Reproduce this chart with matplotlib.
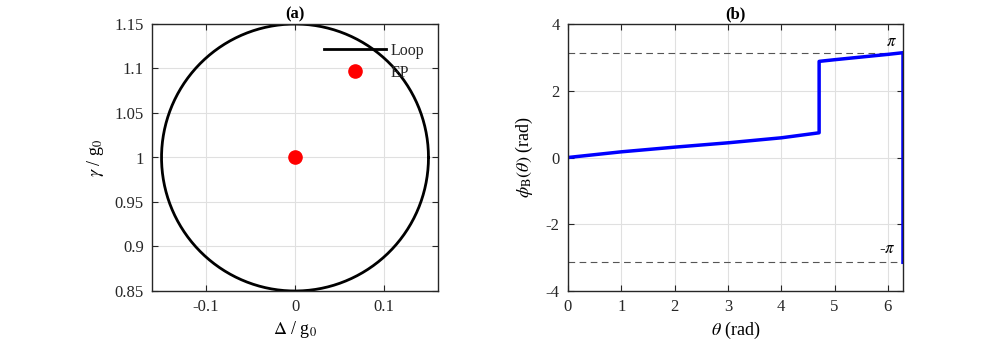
import numpy as np
import matplotlib.pyplot as plt

plt.rcParams['font.family'] = ['Liberation Serif', 'DejaVu Serif']
plt.rcParams['mathtext.fontset'] = 'stix'
plt.rcParams['font.size'] = 12

# panel (a): loop around the EP
centro = (0.0, 1.0)
radio = 0.15
ep_x = [0.0]
ep_y = [1.0]

# panel (b): phase
theta_1 = [0.0, 1.0, 2.0, 3.0, 4.0, 4.71]
phi_1 = [0.0, 0.17, 0.31, 0.44, 0.59, 0.74]
theta_2 = [4.71, 5.0, 5.5, 6.0, 6.283]
phi_2 = [2.88, 2.93, 3.01, 3.09, 3.14]
theta_3 = [6.283, 6.283]
phi_3 = [3.14, -3.14]


def estilo(ax):
    ax.grid(True, color='#e0e0e0', lw=0.8)
    ax.set_axisbelow(True)
    ax.tick_params(direction='in', top=True, right=True, length=4, pad=6,
                   colors='#262626', labelsize=12)
    for s in ax.spines.values():
        s.set_linewidth(1.0)
        s.set_color('#262626')


fig = plt.figure(figsize=(9.97, 3.42), dpi=100)
ax1 = fig.add_axes([152/997, 1-291/342, 286/997, 267/342])
ax2 = fig.add_axes([568/997, 1-291/342, 335/997, 267/342])

# (a)
t = np.linspace(0, 2*np.pi, 400)
ax1.plot(centro[0] + radio*np.cos(t), centro[1] + radio*np.sin(t), 'k-', lw=2, label='Loop')
ax1.plot(ep_x, ep_y, 'o', color='red', ms=9.5, label='EP', ls='none')
ax1.set_xlim(-0.1607, 0.1607)
ax1.set_ylim(0.85, 1.15)
ax1.set_xticks([-0.1, 0, 0.1])
ax1.set_xticklabels(['-0.1', '0', '0.1'])
ax1.set_yticks([0.85, 0.9, 0.95, 1.0, 1.05, 1.1, 1.15])
ax1.set_yticklabels(['0.85', '0.9', '0.95', '1', '1.05', '1.1', '1.15'])
ax1.set_xlabel(r'$\Delta$ / g$_0$', fontsize=13, labelpad=3)
ax1.set_ylabel(r'$\gamma$ / g$_0$', fontsize=13, labelpad=6)
ax1.set_title('(a)', fontweight='bold', fontsize=12, pad=4)
estilo(ax1)
leg = ax1.legend(loc='upper left', bbox_to_anchor=(324/997, 1-43/342), bbox_transform=fig.transFigure,
                 frameon=False, borderpad=0, borderaxespad=0, handlelength=3.9, handletextpad=0.25,
                 labelspacing=0.35, fontsize=11.5)
for txt in leg.get_texts():
    txt.set_color('#262626')

# (b)
ax2.axhline(np.pi, color='#555555', ls=(0, (6, 4)), lw=0.8)
ax2.axhline(-np.pi, color='#555555', ls=(0, (6, 4)), lw=0.8)
ax2.plot(theta_1 + theta_2 + theta_3[1:], phi_1 + phi_2 + phi_3[1:], color='blue', lw=2.5)
ax2.text(6.07, 3.45, r'$\pi$', fontsize=12, ha='center', va='center')
ax2.text(5.98, -2.75, r'-$\pi$', fontsize=12, ha='center', va='center')
ax2.set_xlim(0, 2*np.pi)
ax2.set_ylim(-4, 4)
ax2.set_xticks([0, 1, 2, 3, 4, 5, 6])
ax2.set_yticks([-4, -2, 0, 2, 4])
ax2.set_yticklabels(['-4', '-2', '0', '2', '4'])
ax2.set_xlabel(r'$\theta$ (rad)', fontsize=13, labelpad=3)
ax2.set_ylabel(r'$\phi_\mathrm{B}(\theta)$ (rad)', fontsize=13, labelpad=8)
ax2.set_title('(b)', fontweight='bold', fontsize=12, pad=4)
estilo(ax2)

fig.savefig('out.png', dpi=100)
